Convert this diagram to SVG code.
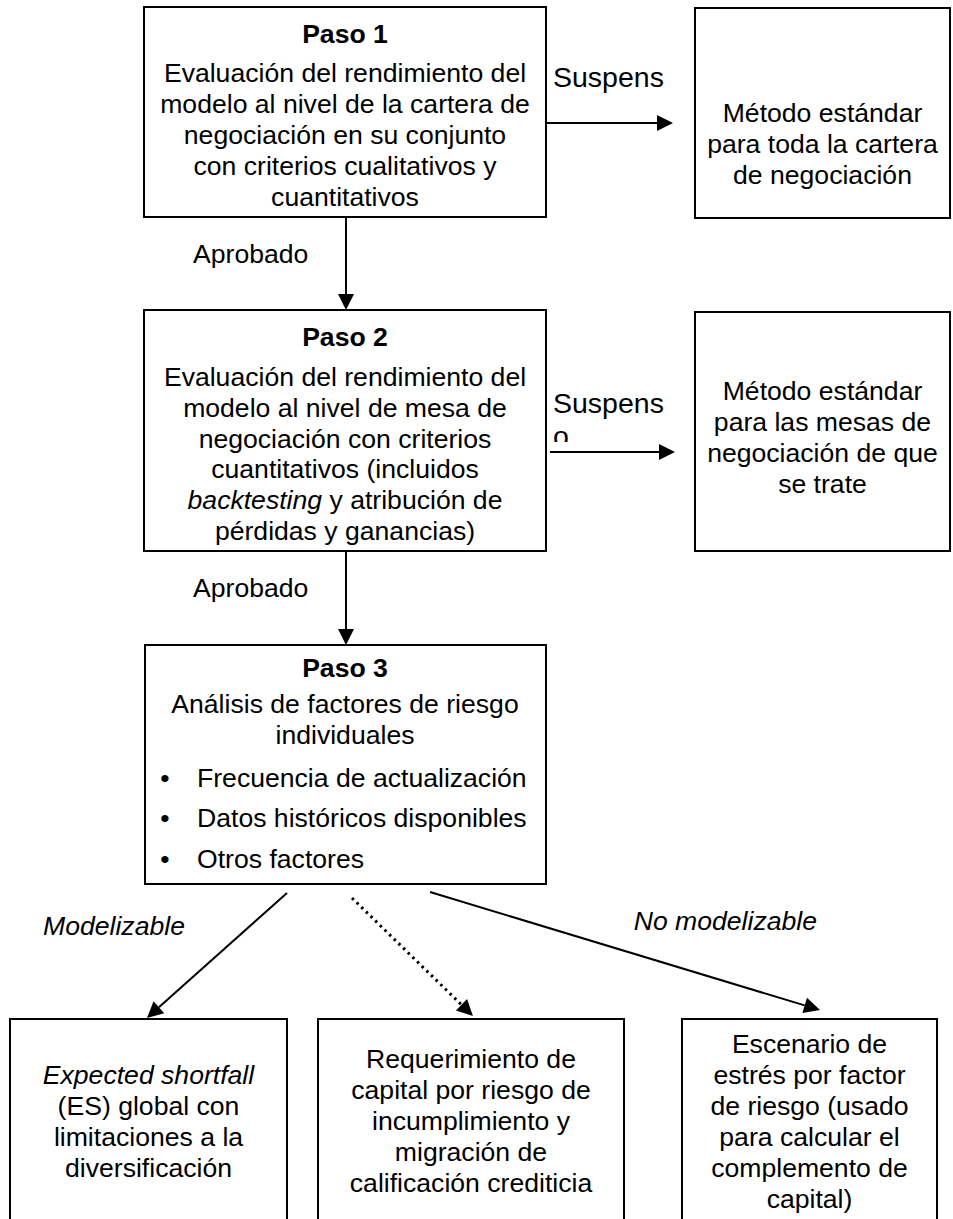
<svg xmlns="http://www.w3.org/2000/svg" width="953" height="1219" viewBox="0 0 953 1219">
<style>
text{font-family:"Liberation Sans",Arial,sans-serif;font-size:26.6px;fill:#000}
.c{text-anchor:middle}
.b{font-weight:bold}
.i{font-style:italic}
.box{fill:#fff;stroke:#000;stroke-width:2}
.ln{fill:none;stroke:#000;stroke-width:2}
.dot{fill:none;stroke:#000;stroke-width:3;stroke-dasharray:2.5 4}
.lab{font-size:28.5px}
</style>
<defs>
<marker id="ah" markerUnits="userSpaceOnUse" markerWidth="18" markerHeight="18" refX="0" refY="8" orient="auto" overflow="visible">
<path d="M0,0 L16,8 L0,16 z" fill="#000"/>
</marker>
<clipPath id="clipS"><rect x="540" y="380" width="150" height="62"/></clipPath>
</defs>
<rect width="953" height="1219" fill="#fff"/>

<g id="connectors">
<line class="ln" x1="547" y1="123" x2="657" y2="123" marker-end="url(#ah)"/>
<line class="ln" x1="550" y1="452" x2="659" y2="452" marker-end="url(#ah)"/>
<line class="ln" x1="346" y1="218" x2="346" y2="294" marker-end="url(#ah)"/>
<line class="ln" x1="346" y1="552" x2="346" y2="629" marker-end="url(#ah)"/>
<line class="ln" x1="287" y1="893" x2="158.9" y2="1007.3" marker-end="url(#ah)"/>
<line class="dot" x1="352" y1="898" x2="461.5" y2="1004.8" marker-end="url(#ah)"/>
<line class="ln" x1="430" y1="892" x2="804.7" y2="1005.4" marker-end="url(#ah)"/>
<text class="lab" x="553" y="87">Suspens</text>
<g clip-path="url(#clipS)">
<text class="lab" x="553" y="413">Suspens</text>
<text class="lab" x="553" y="446">o</text>
</g>
<text x="193" y="263">Aprobado</text>
<text x="193" y="597">Aprobado</text>
<text class="i" x="43" y="935">Modelizable</text>
<text class="i" x="817" y="930" text-anchor="end">No modelizable</text>
</g>

<g id="paso1">
<rect class="box" x="144" y="7" width="402" height="210"/>
<text class="c b" x="345" y="43">Paso 1</text>
<text class="c" x="345" y="82">Evaluación del rendimiento del</text>
<text class="c" x="345" y="113">modelo al nivel de la cartera de</text>
<text class="c" x="345" y="144">negociación en su conjunto</text>
<text class="c" x="345" y="175">con criterios cualitativos y</text>
<text class="c" x="345" y="206">cuantitativos</text>
</g>

<g id="estandar1">
<rect class="box" x="695" y="8" width="255" height="210"/>
<text class="c" x="822.5" y="122">Método estándar</text>
<text class="c" x="822.5" y="153">para toda la cartera</text>
<text class="c" x="822.5" y="184">de negociación</text>
</g>

<g id="paso2">
<rect class="box" x="144" y="310" width="402" height="241"/>
<text class="c b" x="345" y="346">Paso 2</text>
<text class="c" x="345" y="386">Evaluación del rendimiento del</text>
<text class="c" x="345" y="417">modelo al nivel de mesa de</text>
<text class="c" x="345" y="448">negociación con criterios</text>
<text class="c" x="345" y="478">cuantitativos (incluidos</text>
<text class="c" x="345" y="509"><tspan class="i">backtesting</tspan> y atribución de</text>
<text class="c" x="345" y="540">pérdidas y ganancias)</text>
</g>

<g id="estandar2">
<rect class="box" x="695" y="312" width="255" height="239"/>
<text class="c" x="822.5" y="400">Método estándar</text>
<text class="c" x="822.5" y="431">para las mesas de</text>
<text class="c" x="822.5" y="462">negociación de que</text>
<text class="c" x="822.5" y="493">se trate</text>
</g>

<g id="paso3">
<rect class="box" x="145" y="645" width="401" height="239"/>
<text class="c b" x="345" y="677">Paso 3</text>
<text class="c" x="345" y="713">Análisis de factores de riesgo</text>
<text class="c" x="345" y="744">individuales</text>
<text x="165" y="787" text-anchor="middle">•</text>
<text x="197" y="787">Frecuencia de actualización</text>
<text x="165" y="827" text-anchor="middle">•</text>
<text x="197" y="827">Datos históricos disponibles</text>
<text x="165" y="868" text-anchor="middle">•</text>
<text x="197" y="868">Otros factores</text>
</g>

<g id="es">
<rect class="box" x="10" y="1019" width="277" height="220"/>
<text class="c i" x="148.5" y="1084">Expected shortfall</text>
<text class="c" x="148.5" y="1115">(ES) global con</text>
<text class="c" x="148.5" y="1146">limitaciones a la</text>
<text class="c" x="148.5" y="1177">diversificación</text>
</g>

<g id="drc">
<rect class="box" x="318" y="1019" width="306" height="220"/>
<text class="c" x="471" y="1068">Requerimiento de</text>
<text class="c" x="471" y="1099">capital por riesgo de</text>
<text class="c" x="471" y="1130">incumplimiento y</text>
<text class="c" x="471" y="1161">migración de</text>
<text class="c" x="471" y="1192">calificación crediticia</text>
</g>

<g id="sres">
<rect class="box" x="682" y="1019" width="255" height="220"/>
<text class="c" x="809.5" y="1053">Escenario de</text>
<text class="c" x="809.5" y="1084">estrés por factor</text>
<text class="c" x="809.5" y="1115">de riesgo (usado</text>
<text class="c" x="809.5" y="1146">para calcular el</text>
<text class="c" x="809.5" y="1177">complemento de</text>
<text class="c" x="809.5" y="1208">capital)</text>
</g>
</svg>
